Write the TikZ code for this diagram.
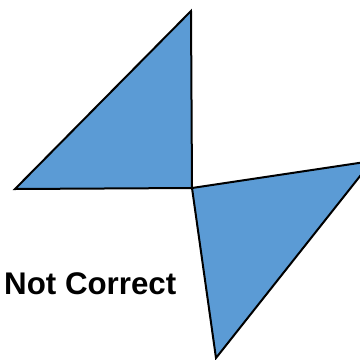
\documentclass[tikz,border=0pt]{standalone}
\usepackage{fontspec}
\setmainfont{Liberation Sans}
\begin{document}
\begin{tikzpicture}[x=1pt,y=-1pt,
  tri/.style={draw=black,fill=triblue,line width=2pt,line join=miter},
  lbl/.style={font=\bfseries\fontsize{31.3}{36}\selectfont,inner sep=0pt,anchor=base west}]
\definecolor{triblue}{HTML}{5B9BD5}
\useasboundingbox (0,0) rectangle (360,360);
\clip (0,0) rectangle (360,360);
\coordinate (a1) at (191,11);
\coordinate (a2) at (15,189);
\coordinate (c) at (192,188);
\coordinate (b1) at (372,161);
\coordinate (b2) at (216,358);
\draw[tri] (a1) -- (a2) -- (c) -- cycle;
\draw[tri] (c) -- (b1) -- (b2) -- cycle;
\node[lbl] (t) at (4,294) {Not Correct};
\end{tikzpicture}
\end{document}
